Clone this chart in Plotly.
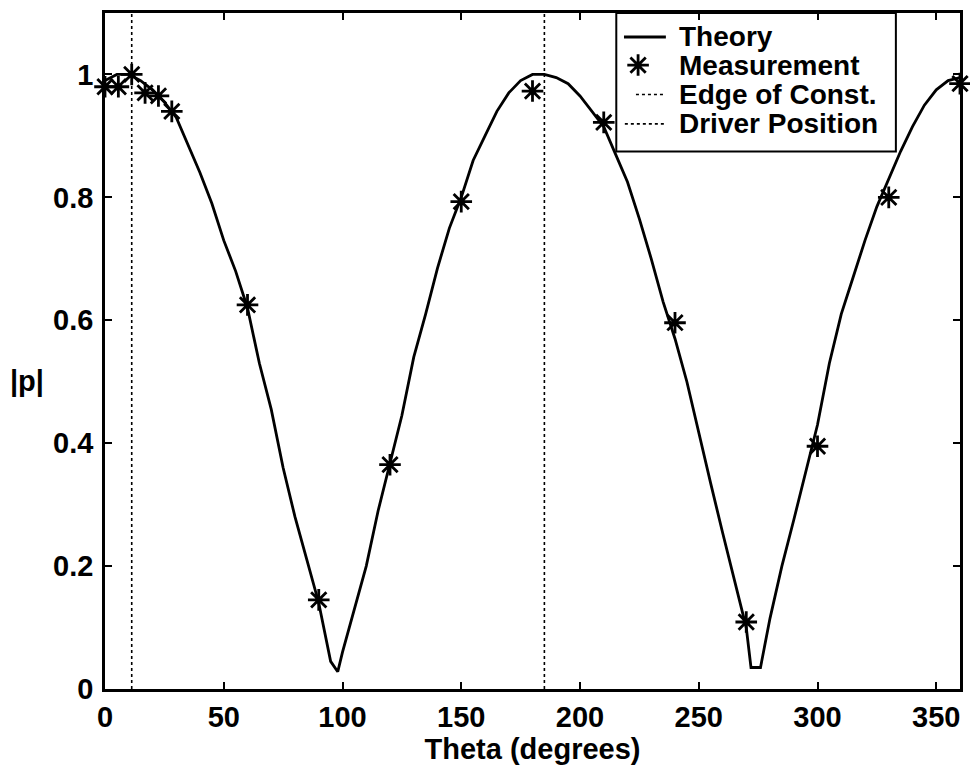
import plotly.graph_objects as go

# Theoretical pressure magnitude vs. angle
theory_theta = [0, 5, 10, 15, 20, 25, 30, 35, 40, 45, 50, 55, 60, 65, 70, 75, 80, 85, 90, 95,
                98, 100, 105, 110, 115, 120, 125, 130, 135, 140, 145, 150, 155, 160, 165, 170,
                175, 180, 185, 190, 195, 200, 205, 210, 215, 220, 225, 230, 235, 240, 245, 250,
                255, 260, 265, 270, 272, 276, 280, 285, 290, 295, 300, 305, 310, 315, 320, 325,
                330, 335, 340, 345, 350, 355, 360]
theory_p = [0.99, 1.0, 1.0, 0.99, 0.975, 0.955, 0.93, 0.885, 0.84, 0.79, 0.73, 0.68, 0.62, 0.53,
            0.455, 0.36, 0.28, 0.21, 0.14, 0.045, 0.028, 0.06, 0.13, 0.2, 0.29, 0.37, 0.445, 0.54,
            0.61, 0.685, 0.75, 0.8, 0.86, 0.9, 0.94, 0.97, 0.99, 1.0, 1.0, 0.995, 0.985, 0.965,
            0.94, 0.915, 0.87, 0.825, 0.765, 0.7, 0.63, 0.57, 0.5, 0.415, 0.335, 0.255, 0.175,
            0.1, 0.035, 0.035, 0.115, 0.2, 0.275, 0.355, 0.43, 0.53, 0.61, 0.67, 0.73, 0.785,
            0.83, 0.875, 0.915, 0.95, 0.975, 0.99, 0.995]

# Measured values
meas_theta = [0, 5.625, 11.25, 16.875, 22.5, 28.125, 60, 90, 120, 150, 180, 210, 240, 270, 300, 330, 360]
meas_p = [0.98, 0.98, 1.0, 0.97, 0.965, 0.94, 0.625, 0.145, 0.365, 0.793, 0.973, 0.922, 0.596,
          0.109, 0.395, 0.80, 0.985]

# Reference angles
edge_theta = 11.25
driver_theta = 185

x_ticks = [0, 50, 100, 150, 200, 250, 300, 350]
y_ticks = [0, 0.2, 0.4, 0.6, 0.8, 1]
y_tick_text = ["0", "0.2", "0.4", "0.6", "0.8", "1"]

legend_names = ["Theory", "Measurement", "Edge of Const.", "Driver Position"]

FONT = "Liberation Sans, Arial, sans-serif"
FS = 29


def font(size=FS):
    return dict(family=FONT, size=size, color="black", weight="bold")


LINE_W = 2.8
DOT_W = 1.6
STAR = dict(symbol="asterisk-open", size=18, color="black",
            line=dict(color="black", width=LINE_W))

fig = go.Figure()
fig.add_trace(go.Scatter(x=theory_theta, y=theory_p, mode="lines", name=legend_names[0],
                         line=dict(color="black", width=LINE_W), showlegend=False))
fig.add_trace(go.Scatter(x=meas_theta, y=meas_p, mode="markers", name=legend_names[1],
                         marker=STAR, showlegend=False, cliponaxis=False))
fig.add_trace(go.Scatter(x=[edge_theta, edge_theta], y=[0, 1.1], mode="lines",
                         name=legend_names[2], showlegend=False,
                         line=dict(color="black", width=DOT_W, dash="dot")))
fig.add_trace(go.Scatter(x=[driver_theta, driver_theta], y=[0, 1.1], mode="lines",
                         name=legend_names[3], showlegend=False,
                         line=dict(color="black", width=DOT_W, dash="dot")))

axis_common = dict(showline=True, linecolor="black", linewidth=2.5, mirror="ticks",
                   ticks="inside", ticklen=7, tickwidth=2, tickcolor="black",
                   showgrid=False, zeroline=False, tickfont=font())

fig.update_xaxes(range=[0, 360], tickvals=x_ticks,
                 title=dict(text="Theta (degrees)", font=font(), standoff=3),
                 **axis_common)
fig.update_yaxes(range=[0, 1.1], tickvals=y_ticks, ticktext=y_tick_text,
                 ticklabelstandoff=3, **axis_common)

# Hidden unit overlay axes used to place the legend key in plot-fraction coordinates
fig.update_layout(
    xaxis2=dict(overlaying="x", range=[0, 1], visible=False, fixedrange=True),
    yaxis2=dict(overlaying="y", range=[0, 1], visible=False, fixedrange=True),
)

# Legend box layout (fractions of the plotting area)
box_x0, box_x1, box_y0, box_y1 = 0.598, 0.925, 0.795, 1.0
row_y = [0.9645, 0.923, 0.8795, 0.8360]
text_x = 0.670

fig.add_shape(type="rect", xref="paper", yref="paper", x0=box_x0, x1=box_x1, y0=box_y0, y1=box_y1,
              line=dict(color="black", width=2), fillcolor="white", layer="below")
fig.add_shape(type="line", xref="paper", yref="paper", x0=0.607, x1=0.656, y0=row_y[0], y1=row_y[0],
              line=dict(color="black", width=LINE_W))
fig.add_trace(go.Scatter(x=[0.6235], y=[row_y[1]], xaxis="x2", yaxis="y2", mode="markers",
                         marker=STAR, showlegend=False, hoverinfo="skip"))
fig.add_shape(type="line", xref="paper", yref="paper", x0=0.621, x1=0.656, y0=row_y[2], y1=row_y[2],
              line=dict(color="black", width=DOT_W, dash="dot"))
fig.add_shape(type="line", xref="paper", yref="paper", x0=0.608, x1=0.656, y0=row_y[3], y1=row_y[3],
              line=dict(color="black", width=DOT_W, dash="dot"))
for name, ry in zip(legend_names, row_y):
    fig.add_annotation(text=name, xref="paper", yref="paper", x=text_x, y=ry,
                       xanchor="left", yanchor="middle", borderpad=0,
                       showarrow=False, font=font(28))

fig.add_annotation(text="|p|", xref="paper", yref="paper", x=-0.113, y=0.455,
                   showarrow=False, xanchor="left", font=font())

fig.update_layout(
    width=970, height=772,
    margin=dict(l=105, r=7, t=13, b=83),
    paper_bgcolor="white", plot_bgcolor="white",
    showlegend=False,
)

fig.write_html("out.html")
